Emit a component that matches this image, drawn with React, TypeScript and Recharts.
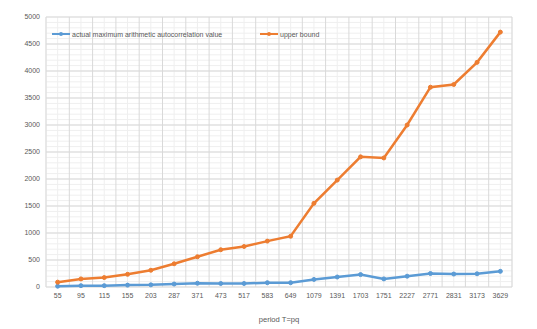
import React from 'react';
import {
  LineChart,
  Line,
  XAxis,
  YAxis,
  CartesianGrid,
} from 'recharts';

// period T = pq
const periods = [
  '55', '95', '115', '155', '203', '287', '371', '473', '517', '583',
  '649', '1079', '1391', '1703', '1751', '2227', '2771', '2831', '3173', '3629',
];

const actualMax = [
  15, 25, 25, 35, 40, 55, 70, 65, 65, 80,
  80, 140, 185, 230, 150, 200, 250, 240, 245, 290,
];

const upperBound = [
  90, 150, 175, 235, 310, 430, 560, 690, 750, 850,
  940, 1550, 1980, 2410, 2390, 3000, 3700, 3750, 4160, 4720,
];

const yTicks = [0, 500, 1000, 1500, 2000, 2500, 3000, 3500, 4000, 4500, 5000];
const yMinorTicks = Array.from({ length: 51 }, (_, i) => i * 100);

const data = periods.map((p, i) => ({
  period: p,
  actual: actualMax[i],
  upper: upperBound[i],
}));

const BLUE = '#5B9BD5';
const ORANGE = '#ED7D31';
const TEXT = '#595959';
const FONT = '"Liberation Sans", Arial, sans-serif';

// category edges: split the plot width into one band per period
const edges = (props: any) => {
  const { left, width } = props.offset;
  const step = width / periods.length;
  return Array.from({ length: periods.length + 1 }, (_, i) => left + i * step);
};

const LegendBox = () => {
  const item = (color: string, label: string, width: number) => (
    <div style={{ display: 'flex', alignItems: 'center', width }}>
      <svg width={18} height={6} style={{ marginRight: 2 }}>
        <line x1={0} y1={3} x2={18} y2={3} stroke={color} strokeWidth={2} />
        <circle cx={9} cy={3} r={2} fill={color} />
      </svg>
      <span style={{ fontSize: 7, color: TEXT, fontFamily: FONT, whiteSpace: 'nowrap' }}>
        {label}
      </span>
    </div>
  );
  return (
    <div style={{ position: 'absolute', left: 52, top: 29, display: 'flex', height: 10 }}>
      {item(BLUE, 'actual maximum arithmetic autocorrelation value', 208)}
      {item(ORANGE, 'upper bound', 80)}
    </div>
  );
};

const App = () => {
  return (
    <div style={{ position: 'absolute', left: 0, top: 0, width: 537, height: 329, background: '#fff' }}>
      <LineChart
        width={537}
        height={329}
        data={data}
        margin={{ top: 17, right: 25, bottom: 0, left: 0 }}
      >
        <CartesianGrid stroke="#EFEFEF" horizontalValues={yMinorTicks} />
        <CartesianGrid
          stroke="#D9D9D9"
          verticalCoordinatesGenerator={edges}
          horizontalValues={yTicks}
        />
        <XAxis
          dataKey="period"
          interval={0}
          padding={{ left: 11.65, right: 11.65 }}
          axisLine={false}
          tickLine={false}
          tickSize={4}
          tickMargin={2}
          height={42}
          tick={{ fontSize: 7, fill: TEXT, fontFamily: FONT }}
          label={{
            value: 'period T=pq',
            position: 'insideBottom',
            offset: 7,
            fontSize: 7.6,
            fill: TEXT,
            fontFamily: FONT,
          }}
        />
        <YAxis
          domain={[0, 5000]}
          ticks={yTicks}
          interval={0}
          axisLine={false}
          tickLine={false}
          tickSize={4}
          tickMargin={2}
          width={46}
          tick={{ fontSize: 7, fill: TEXT, fontFamily: FONT }}
        />
        <Line
          dataKey="actual"
          name="actual maximum arithmetic autocorrelation value"
          stroke={BLUE}
          strokeWidth={2.5}
          dot={{ r: 2, fill: BLUE, stroke: BLUE, strokeWidth: 1 }}
          isAnimationActive={false}
        />
        <Line
          dataKey="upper"
          name="upper bound"
          stroke={ORANGE}
          strokeWidth={2.5}
          dot={{ r: 2, fill: ORANGE, stroke: ORANGE, strokeWidth: 1 }}
          isAnimationActive={false}
        />
      </LineChart>
      <LegendBox />
    </div>
  );
};

export default App;
